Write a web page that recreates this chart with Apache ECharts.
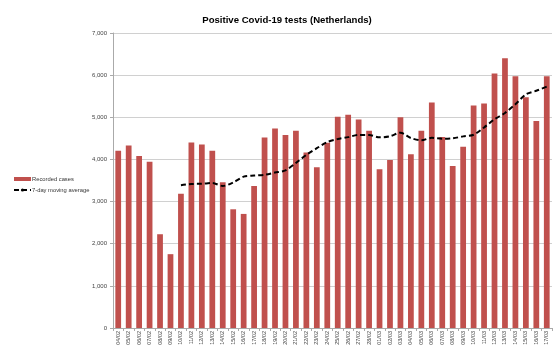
<!DOCTYPE html>
<html><head><meta charset="utf-8">
<script src="https://cdn.jsdelivr.net/npm/echarts@6/dist/echarts.min.js"></script>
<style>html,body{margin:0;padding:0;background:#fff}#c{width:560px;height:349px}</style>
</head><body><div id="c"></div>
<script>
const categories = ['04/02','05/02','06/02','07/02','08/02','09/02','10/02','11/02','12/02','13/02','14/02','15/02','16/02','17/02','18/02','19/02','20/02','21/02','22/02','23/02','24/02','25/02','26/02','27/02','28/02','01/03','02/03','03/03','04/03','05/03','06/03','07/03','08/03','09/03','10/03','11/03','12/03','13/03','14/03','15/03','16/03','17/03'];
const recordedCases = [4206,4332,4080,3946,2225,1752,3188,4404,4356,4206,3457,2817,2707,3370,4522,4735,4577,4680,4167,3812,4396,5011,5059,4948,4680,3764,3985,5003,4120,4680,5351,4530,3843,4301,5280,5327,6037,6400,5974,5477,4909,5974];
const movingAverage = [null,null,null,null,null,null,3390,3418,3422,3440,3370,3454,3591,3617,3634,3688,3741,3915,4108,4266,4413,4483,4529,4582,4582,4524,4549,4636,4508,4454,4512,4490,4502,4547,4586,4759,4953,5103,5309,5542,5629,5728];
const yTicks = [0,1000,2000,3000,4000,5000,6000,7000];

const chart = echarts.init(document.getElementById('c'), null, {renderer:'canvas'});
chart.setOption({
  animation:false,
  backgroundColor:'#fff',
  title:{text:'Positive Covid-19 tests (Netherlands)', left:282, top:10, textAlign:'center',
    textStyle:{fontFamily:'Liberation Sans', fontSize:9.6, fontWeight:'bold', color:'#000'}},
  legend:{orient:'vertical', left:8, top:171, itemGap:5, itemWidth:17, itemHeight:4,
    textStyle:{fontFamily:'Liberation Sans', fontSize:5.8, color:'#333', padding:[0,0,0,-4]},
    data:[{name:'Recorded cases', icon:'rect'},{name:'7-day moving average'}]},
  grid:{left:113, right:8, top:33, bottom:21, containLabel:false},
  xAxis:{type:'category', data:categories, boundaryGap:true,
    axisLine:{lineStyle:{color:'#aaa', width:1}},
    axisTick:{show:true, length:3, lineStyle:{color:'#aaa'}},
    axisLabel:{rotate:90, interval:0, fontSize:5.5, fontFamily:'Liberation Sans', color:'#444', margin:3}},
  yAxis:{type:'value', min:0, max:7000, interval:1000,
    axisLine:{show:true, lineStyle:{color:'#aaa'}},
    axisTick:{show:true, length:3, lineStyle:{color:'#aaa'}},
    splitLine:{lineStyle:{color:'#d0d0d0', width:1}},
    axisLabel:{fontSize:6, fontFamily:'Liberation Sans', color:'#444', margin:6,
      formatter:v=>yTicks.includes(v)?v.toLocaleString('en-US'):''}},
  series:[
    {name:'Recorded cases', type:'bar', data:recordedCases, barCategoryGap:'45%',
      itemStyle:{color:'#C0504D'}},
    {name:'7-day moving average', type:'line', data:movingAverage, smooth:0.3,
      showSymbol:false, symbol:'none', connectNulls:false,
      lineStyle:{color:'#000', width:2, type:[5,3]}, itemStyle:{color:'#000'}}
  ]
});
</script></body></html>
